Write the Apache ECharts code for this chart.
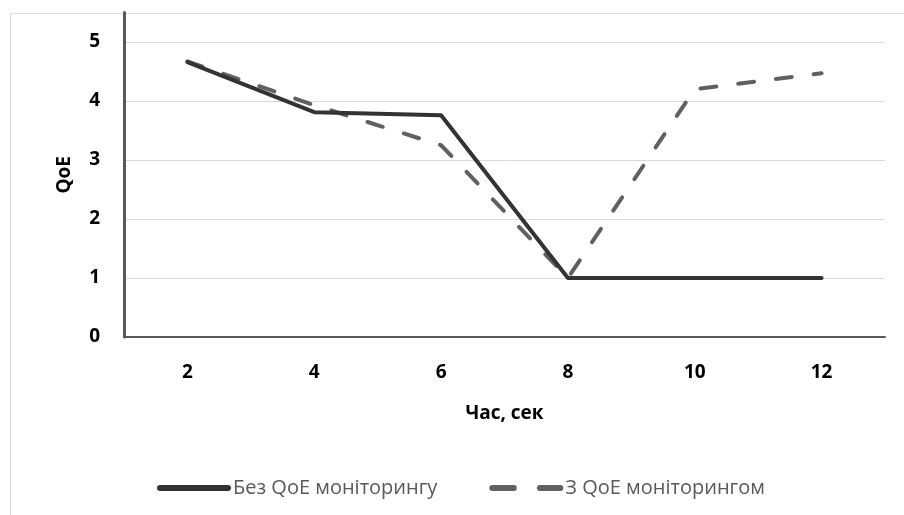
<!DOCTYPE html>
<html><head><meta charset="utf-8">
<script src="https://cdn.jsdelivr.net/npm/echarts@6/dist/echarts.min.js"></script>
<style>html,body{margin:0;padding:0;background:#fff}#c{width:904px;height:515px}</style>
</head><body><div id="c"></div>
<script>
const categories = ['2', '4', '6', '8', '10', '12'];
const seriesNames = ['Без QoE моніторингу', 'З QoE моніторингом'];
const withoutMonitoring = [4.66, 3.81, 3.76, 1, 1, 1];
const withMonitoring = [4.67, 3.93, 3.25, 1, 4.2, 4.47];
const yTicks = [0, 1, 2, 3, 4, 5];

const chart = echarts.init(document.getElementById('c'), null, {renderer: 'canvas'});
const FONT = 'Open Sans';
const labelFont = {fontFamily: FONT, fontWeight: 'bold', fontSize: 19, color: '#000'};
chart.setOption({
  animation: false,
  backgroundColor: '#fff',
  graphic: [{type: 'rect', shape: {x: 10.5, y: 13.5, width: 1000, height: 1000}, style: {fill: 'none', stroke: '#d9d9d9', lineWidth: 1}, z: -1}],
  grid: {left: 124, right: 19, top: 12.5, bottom: 178},
  xAxis: {
    type: 'category', data: categories, boundaryGap: true,
    name: 'Час, сек', nameLocation: 'middle', nameGap: 67, nameMoveOverlap: false,
    nameTextStyle: {fontFamily: FONT, fontWeight: 'bold', fontSize: 19, color: '#000'},
    axisLine: {lineStyle: {color: '#595959', width: 2}},
    axisTick: {show: false},
    axisLabel: Object.assign({margin: 26}, labelFont)
  },
  yAxis: {
    type: 'value', min: 0, max: 5.5, interval: 1,
    name: 'QoE', nameLocation: 'middle', nameGap: 50, nameMoveOverlap: false,
    nameTextStyle: {fontFamily: FONT, fontWeight: 'bold', fontSize: 19, color: '#000'},
    axisLine: {show: true, lineStyle: {color: '#595959', width: 3}},
    axisTick: {show: false},
    splitLine: {show: true, showMaxLine: false, lineStyle: {color: '#d9d9d9', width: 1}},
    axisLabel: Object.assign({margin: 24, formatter: v => yTicks.includes(v) ? String(v) : ''}, labelFont)
  },
  legend: {
    left: 152, top: 473, itemGap: 52, itemWidth: 74, itemHeight: 6, symbolKeepAspect: false,
    textStyle: {fontFamily: FONT, fontSize: 20, color: '#595959', padding: [0, 0, 0, -3]},
    data: [
      {name: seriesNames[0], icon: 'path://M3,0H69A3,3 0 0 1 69,6H3A3,3 0 0 1 3,0Z', itemStyle: {color: '#333333'}},
      {name: seriesNames[1], icon: 'path://M3,0H23A3,3 0 0 1 23,6H3A3,3 0 0 1 3,0Z M48,0H67A3,3 0 0 1 67,6H48A3,3 0 0 1 48,0Z', itemStyle: {color: '#606060'}}
    ]
  },
  series: [
    {name: seriesNames[0], type: 'line', data: withoutMonitoring, symbol: 'none',
     lineStyle: {color: '#333333', width: 4, cap: 'round', join: 'round'}, itemStyle: {color: '#333333'}, z: 3},
    {name: seriesNames[1], type: 'line', data: withMonitoring, symbol: 'none',
     lineStyle: {color: '#606060', width: 4, type: [16, 22], cap: 'round', join: 'round'}, itemStyle: {color: '#606060'}, z: 2}
  ]
});
</script></body></html>
